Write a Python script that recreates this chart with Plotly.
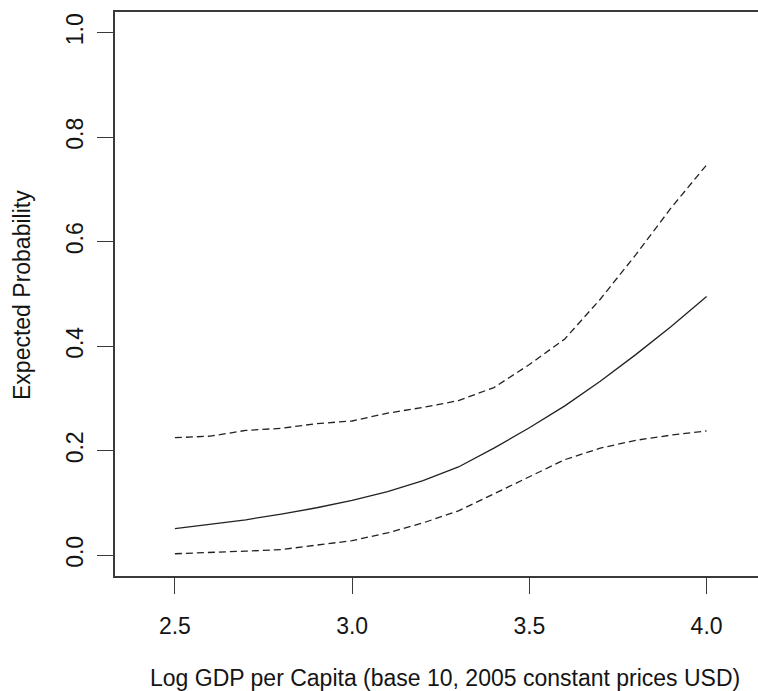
import plotly.graph_objects as go

# Data
log_gdp = [2.5, 2.6, 2.7, 2.8, 2.9, 3.0, 3.1, 3.2, 3.3, 3.4, 3.5, 3.6, 3.7, 3.8, 3.9, 4.0]
expected = [0.051, 0.059, 0.068, 0.079, 0.091, 0.105, 0.122, 0.143, 0.169, 0.205,
            0.244, 0.286, 0.333, 0.384, 0.438, 0.495]
upper_ci = [0.225, 0.228, 0.239, 0.243, 0.252, 0.257, 0.272, 0.283, 0.296, 0.321,
            0.365, 0.414, 0.490, 0.575, 0.665, 0.747]
lower_ci = [0.003, 0.005, 0.008, 0.011, 0.020, 0.028, 0.043, 0.062, 0.085, 0.118,
            0.151, 0.183, 0.205, 0.220, 0.230, 0.238]

x_ticks = [2.5, 3.0, 3.5, 4.0]
x_tick_labels = ["2.5", "3.0", "3.5", "4.0"]
y_ticks = [0.0, 0.2, 0.4, 0.6, 0.8, 1.0]
y_tick_labels = ["0.0", "0.2", "0.4", "0.6", "0.8", "1.0"]

x_title = "Log GDP per Capita (base 10, 2005 constant prices USD)"
y_title = "Expected Probability"

FONT = "Liberation Sans, Arial, sans-serif"
TXT = "#141414"
AX = "#3a3a3a"
FS = 23

fig = go.Figure()
fig.add_trace(go.Scatter(x=log_gdp, y=upper_ci, mode="lines",
                         line=dict(color="#222222", width=1.3, dash="7px,4px")))
fig.add_trace(go.Scatter(x=log_gdp, y=expected, mode="lines",
                         line=dict(color="#222222", width=1.3)))
fig.add_trace(go.Scatter(x=log_gdp, y=lower_ci, mode="lines",
                         line=dict(color="#222222", width=1.3, dash="7px,4px")))

fig.update_layout(
    width=758, height=691,
    margin=dict(l=115, r=0, t=12, b=115),
    paper_bgcolor="white", plot_bgcolor="white",
    showlegend=False,
    font=dict(family=FONT, size=FS, color=TXT),
    xaxis=dict(
        range=[2.331, 4.145], showgrid=False, zeroline=False,
        showline=True, linecolor=AX, linewidth=1.5, mirror=True,
        ticks="outside", ticklen=16, tickwidth=1.3, tickcolor=AX,
        tickvals=x_ticks, ticktext=x_tick_labels,
        tickfont=dict(family=FONT, size=FS, color=TXT),
        ticklabelstandoff=13,
    ),
    yaxis=dict(
        range=[-0.0396, 1.0396], showgrid=False, zeroline=False,
        showline=True, linecolor=AX, linewidth=1.5, mirror=False,
        ticks="outside", ticklen=16, tickwidth=1.3, tickcolor=AX,
        tickvals=y_ticks, ticktext=y_tick_labels, tickangle=-90,
        tickfont=dict(family=FONT, size=FS, color=TXT),
        ticklabelstandoff=5,
    ),
    annotations=[
        dict(text=x_title, xref="paper", yref="paper", x=(445 - 115) / 643, y=0,
             yshift=-(678 - 576), xanchor="center", yanchor="middle",
             showarrow=False, font=dict(family=FONT, size=FS, color=TXT)),
        dict(text=y_title, xref="paper", yref="paper", x=0, xshift=-(115 - 22),
             y=(576 - 295) / 564, xanchor="center", yanchor="middle", textangle=-90,
             showarrow=False, font=dict(family=FONT, size=FS, color=TXT)),
    ],
)

fig.write_html(
    "out.html",
    config={"displayModeBar": False},
    post_script="document.body.style.margin='0';document.body.style.overflow='hidden';",
)
